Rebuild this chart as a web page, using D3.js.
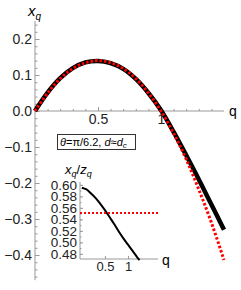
<!DOCTYPE html>
<html>
<head>
<meta charset="utf-8">
<script src="https://cdn.jsdelivr.net/npm/d3@7"></script>
<style>
  body { margin: 0; background: #fff; }
  text { font-family: "Liberation Sans", Arial, sans-serif; }
  .axis path, .axis line { stroke: #999; }
  .axis text { fill: #222; }
</style>
</head>
<body>
<script>
// main plot data
const qMain = [0, 0.1, 0.2, 0.3, 0.4, 0.5, 0.6, 0.7, 0.8, 0.9, 1.0, 1.1, 1.2, 1.3, 1.4, 1.5];
const xqExact = [0, 0.051, 0.091, 0.119, 0.135, 0.139, 0.133, 0.117, 0.089, 0.05, 0.002, -0.058, -0.123, -0.19, -0.26, -0.33];
const xqApprox = [0, 0.05, 0.09, 0.118, 0.134, 0.14, 0.134, 0.118, 0.09, 0.05, 0, -0.062, -0.134, -0.218, -0.31, -0.414];
const mainYTicks = [-0.4, -0.3, -0.2, -0.1, 0, 0.1, 0.2];
const mainXTicks = [0.5, 1];

// inset data
const qInset = [0, 0.1, 0.2, 0.3, 0.4, 0.5, 0.6, 0.7, 0.8, 0.9, 1.0, 1.1, 1.2, 1.25];
const ratioInset = [0.595, 0.592, 0.585, 0.577, 0.567, 0.556, 0.544, 0.532, 0.519, 0.507, 0.496, 0.485, 0.474, 0.469];
const ratioLevel = 0.551;
const insetYTicks = [0.48, 0.50, 0.52, 0.54, 0.56, 0.58, 0.60];
const insetXTicks = [0.5, 1];

const width = 241, height = 290;

const svg = d3.select('body')
  .append('svg')
  .attr('width', width)
  .attr('height', height);

// ---- main plot ----
const x = d3.scaleLinear().domain([0, 1.5]).range([35, 224]);
const y = d3.scaleLinear().domain([0.25, -0.47]).range([21, 280.2]);

// minor ticks on y
svg.append('g')
  .attr('class', 'axis')
  .attr('transform', 'translate(' + x(0) + ',0)')
  .call(d3.axisLeft(y).tickValues(d3.range(-46, 25, 2).map((d) => d / 100)).tickSize(-2.5).tickFormat(''))
  .call((g) => g.select('.domain').remove());

svg.append('g')
  .attr('class', 'axis')
  .attr('transform', 'translate(' + x(0) + ',0)')
  .call(d3.axisLeft(y).tickValues(mainYTicks).tickSize(-4.5).tickPadding(3)
    .tickFormat((d) => (d < 0 ? '\u2212' : '') + d3.format('.1f')(Math.abs(d))))
  .call((g) => g.select('.domain').attr('d', 'M0,' + y.range()[0] + 'V' + y.range()[1]))
  .selectAll('text')
  .style('font-size', '14px');

// x axis minor + major ticks
svg.append('g')
  .attr('class', 'axis')
  .attr('transform', 'translate(0,' + y(0) + ')')
  .call(d3.axisBottom(x).tickValues(d3.range(1, 15).map((d) => d / 10)).tickSize(-2).tickFormat(''))
  .call((g) => g.select('.domain').remove());

svg.append('g')
  .attr('class', 'axis')
  .attr('transform', 'translate(0,' + y(0) + ')')
  .call(d3.axisBottom(x).tickValues(mainXTicks).tickSize(-4).tickPadding(3).tickFormat(d3.format('')))
  .call((g) => g.select('.domain').attr('d', 'M' + x.range()[0] + ',0H' + x.range()[1]))
  .selectAll('text')
  .style('font-size', '14px');

svg.append('text')
  .attr('x', 229)
  .attr('y', y(0) + 5)
  .style('font-size', '14px')
  .text('q');

const label = svg.append('text')
  .attr('x', 28)
  .attr('y', 16)
  .style('font-size', '15px')
  .style('font-style', 'italic');
label.append('tspan').text('x');
label.append('tspan').attr('dy', 4).style('font-size', '10px').text('q');

const mainLine = d3.line()
  .x((d) => x(d[0]))
  .y((d) => y(d[1]))
  .curve(d3.curveCatmullRom);

svg.append('path')
  .datum(qMain.map((q, i) => [q, xqExact[i]]))
  .attr('d', mainLine)
  .attr('fill', 'none')
  .attr('stroke', '#000')
  .attr('stroke-width', 4.5);

svg.append('path')
  .datum(qMain.map((q, i) => [q, xqApprox[i]]))
  .attr('d', mainLine)
  .attr('fill', 'none')
  .attr('stroke', '#f00')
  .attr('stroke-width', 3)
  .attr('stroke-dasharray', '2.5,2');

// annotation box
svg.append('rect')
  .attr('x', 57.5)
  .attr('y', 134.5)
  .attr('width', 78)
  .attr('height', 15)
  .attr('fill', '#fff')
  .attr('stroke', '#333')
  .attr('stroke-width', 1);

const note = svg.append('text')
  .attr('x', 60)
  .attr('y', 146)
  .style('font-size', '11px');
note.append('tspan').style('font-style', 'italic').text('\u03B8');
note.append('tspan').text('=\u03C0/6.2, ');
note.append('tspan').style('font-style', 'italic').text('d');
note.append('tspan').text('\u2248');
note.append('tspan').style('font-style', 'italic').text('d');
note.append('tspan').attr('dy', 2).style('font-size', '8px').style('font-style', 'italic').text('c');

// ---- inset ----
const xi = d3.scaleLinear().domain([-0.04, 1.65]).range([80, 158]);
const yi = d3.scaleLinear().domain([0.605, 0.471]).range([182, 259]);

svg.append('g')
  .attr('class', 'axis')
  .attr('transform', 'translate(' + xi.range()[0] + ',0)')
  .call(d3.axisLeft(yi).tickValues(d3.range(48, 61, 1).map((d) => d / 100)).tickSize(-1.5).tickFormat(''))
  .call((g) => g.select('.domain').remove());

svg.append('g')
  .attr('class', 'axis')
  .attr('transform', 'translate(' + xi.range()[0] + ',0)')
  .call(d3.axisLeft(yi).tickValues(insetYTicks).tickSize(-3).tickPadding(3).tickFormat(d3.format('.2f')))
  .call((g) => g.select('.domain').attr('d', 'M0,' + yi.range()[0] + 'V' + yi.range()[1]))
  .selectAll('text')
  .style('font-size', '13.5px');

svg.append('g')
  .attr('class', 'axis')
  .attr('transform', 'translate(0,' + yi.range()[1] + ')')
  .call(d3.axisBottom(xi).tickValues(insetXTicks).tickSize(-3).tickPadding(3).tickFormat(d3.format('')))
  .call((g) => g.select('.domain').attr('d', 'M' + xi.range()[0] + ',0H' + xi.range()[1]))
  .selectAll('text')
  .style('font-size', '13px');

svg.append('text')
  .attr('x', 162)
  .attr('y', yi.range()[1] + 6)
  .style('font-size', '14px')
  .text('q');

const insetLabel = svg.append('text')
  .attr('x', 65)
  .attr('y', 174)
  .style('font-size', '13px')
  .style('font-style', 'italic');
insetLabel.append('tspan').text('x');
insetLabel.append('tspan').attr('dy', 3).style('font-size', '9px').text('q');
insetLabel.append('tspan').attr('dy', -3).style('font-style', 'normal').text('/');
insetLabel.append('tspan').text('z');
insetLabel.append('tspan').attr('dy', 3).style('font-size', '9px').text('q');

svg.append('path')
  .datum(qInset.map((q, i) => [q, ratioInset[i]]))
  .attr('d', d3.line().x((d) => xi(d[0])).y((d) => yi(d[1])).curve(d3.curveCatmullRom))
  .attr('fill', 'none')
  .attr('stroke', '#000')
  .attr('stroke-width', 2);

svg.append('line')
  .attr('x1', xi.range()[0])
  .attr('x2', xi.range()[1])
  .attr('y1', yi(ratioLevel))
  .attr('y2', yi(ratioLevel))
  .attr('stroke', '#f00')
  .attr('stroke-width', 2)
  .attr('stroke-dasharray', '2,2');
</script>
</body>
</html>
